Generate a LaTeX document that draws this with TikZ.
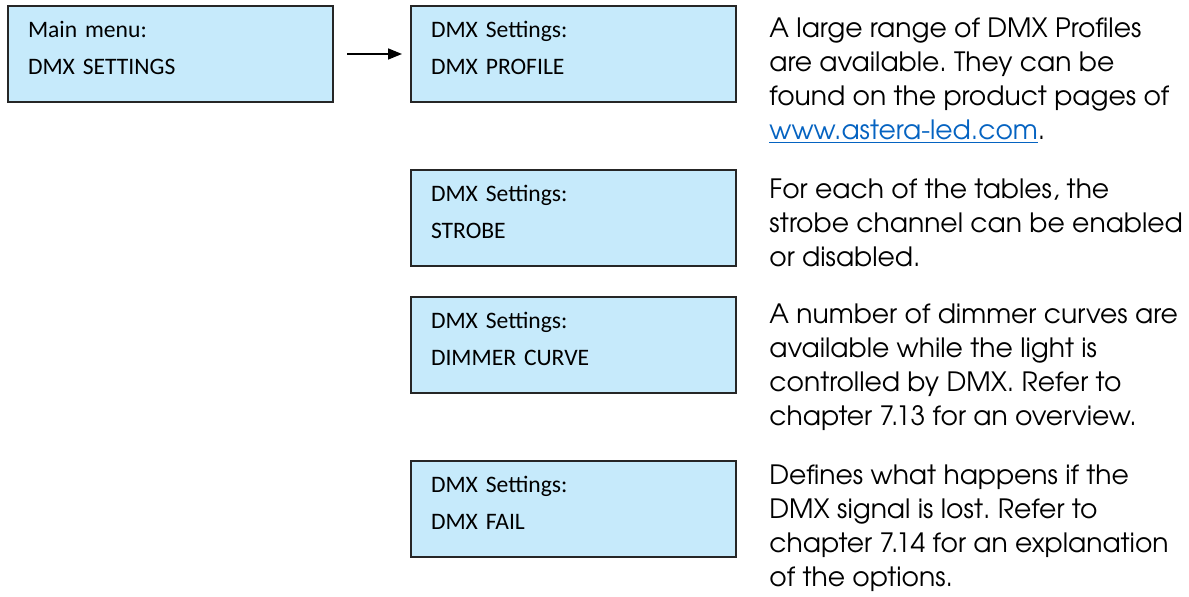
\documentclass[tikz,border=0pt]{standalone}
\usepackage{fontspec}
\usepackage{xcolor}
\usetikzlibrary{arrows.meta}
\setmainfont{Carlito}
\newfontfamily\gothic{TeX Gyre Adventor}
\frenchspacing
\definecolor{boxblue}{RGB}{198,234,251}
\definecolor{linkblue}{RGB}{5,99,193}
\tikzset{
	menubox/.style={draw=black!85, line width=1pt, fill=boxblue, anchor=north west,
		minimum width=162.5pt, minimum height=48pt, text width=142.5pt, inner xsep=10pt,
		text depth=24.5pt, align=left, font=\fontsize{11.8}{18.5}\selectfont},
	desc/.style={anchor=north west, inner sep=0pt, align=left,
		font=\gothic\fontsize{13.3}{17}\selectfont}
}
\begin{document}
\begin{tikzpicture}[x=0.5pt, y=-0.5pt]
		\useasboundingbox (0,0) rectangle (1189,597);
		\node[menubox] (main) at (7,5) {Main menu:\\DMX SETTINGS};
		\node[menubox] (profile) at (410,5) {DMX Settings:\\DMX PROFILE};
		\node[menubox] (strobe) at (410,169) {DMX Settings:\\STROBE};
		\node[menubox] (dimmer) at (410,296) {DMX Settings:\\DIMMER CURVE};
		\node[menubox] (dmxfail) at (410,460) {DMX Settings:\\DMX FAIL};
		\draw[-{Triangle[length=7pt,width=5.5pt]}, line width=0.8pt, shorten <=6.5pt, shorten >=4pt](main)--(profile);
		\node[desc] (descprofile) at (769,17) {A large range of DMX Profiles\\are available. They can be\\found on the product pages of\\{\color{linkblue}\underline{www.astera-led.com}}.};
		\node[desc] (descstrobe) at (769,178) {For each of the tables, the\\strobe channel can be enabled\\or disabled.};
		\node[desc] (descdimmer) at (769,303) {A number of dimmer curves are\\available while the light is\\controlled by DMX. Refer to\\chapter 7.13 for an overview.};
		\node[desc] (descfail) at (769,464) {Defines what happens if the\\DMX signal is lost. Refer to\\chapter 7.14 for an explanation\\of the options.};
		\end{tikzpicture}
\end{document}
